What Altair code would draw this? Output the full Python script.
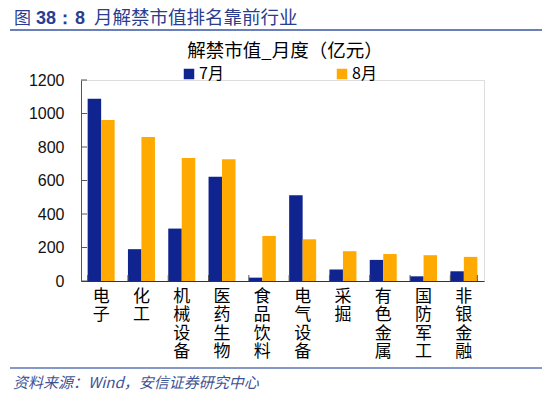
import altair as alt
import pandas as pd

cats = ["电子", "化工", "机械设备", "医药生物", "食品饮料", "电气设备", "采掘", "有色金属", "国防军工", "非银金融"]
jul = [1088, 190, 313, 622, 20, 512, 68, 126, 28, 58]
aug = [961, 859, 735, 727, 269, 249, 178, 161, 154, 144]
months = ["7月", "8月"]
y_ticks = [0, 200, 400, 600, 800, 1000, 1200]

rows = []
for c, a, b in zip(cats, jul, aug):
    rows.append({"cat": c, "month": months[0], "value": a})
    rows.append({"cat": c, "month": months[1], "value": b})
df = pd.DataFrame(rows)

W, H = 403, 201
FONT_CJK = "Noto Sans CJK SC"
FONT_NUM = "Liberation Sans"

xscale = alt.Scale(domain=cats, paddingInner=0.33, paddingOuter=0.165)
yscale = alt.Scale(domain=[0, 1200], nice=False)

xaxis = alt.Axis(title=None, labelAngle=0, ticks=False, domainColor="#333333",
                 labelExpr="split(datum.label, '')", labelFont=FONT_CJK,
                 labelFontSize=17, labelLineHeight=18.5, labelColor="#000000",
                 labelPadding=7, labelBaseline="top")
yaxis = alt.Axis(title=None, values=y_ticks, ticks=False, grid=False, format="d",
                 labelOverlap=False, domainColor="#555555", labelFont=FONT_NUM,
                 labelFontSize=16, labelColor="#111111", labelPadding=17)

bars = alt.Chart(df).mark_bar().encode(
    x=alt.X("cat:N", scale=xscale, sort=cats, axis=xaxis),
    xOffset=alt.XOffset("month:N", sort=months, scale=alt.Scale(paddingInner=0, paddingOuter=0)),
    y=alt.Y("value:Q", scale=yscale, axis=yaxis),
    color=alt.Color("month:N", sort=months,
                    scale=alt.Scale(domain=months, range=["#10248F", "#FFAA00"]),
                    legend=alt.Legend(title=None, orient="none", direction="horizontal",
                                      legendX=100, legendY=-14, symbolType="square",
                                      symbolSize=110, symbolStrokeWidth=0,
                                      labelFont=FONT_CJK, labelFontSize=16,
                                      labelColor="#000000", columnPadding=110,
                                      labelOffset=2)),
)

ytick_df = pd.DataFrame({"value": y_ticks})
yticks = alt.Chart(ytick_df).mark_rule(color="#555555").encode(
    y=alt.Y("value:Q", scale=yscale, axis=yaxis),
    x=alt.value(0), x2=alt.value(6),
)

xtick_df = pd.DataFrame({"cat": cats})
xticks = alt.Chart(xtick_df).mark_rule(color="#555555").encode(
    x=alt.X("cat:N", scale=xscale, sort=cats, bandPosition=0, axis=xaxis),
    y=alt.value(H - 6), y2=alt.value(H),
)
xtick_end = alt.Chart(pd.DataFrame({"cat": [cats[-1]]})).mark_rule(color="#555555").encode(
    x=alt.X("cat:N", scale=xscale, sort=cats, bandPosition=1, axis=xaxis),
    y=alt.value(H - 6), y2=alt.value(H),
)

def txt(t, x, y, size, color, weight="normal", style="normal", font=FONT_CJK, align="left"):
    return alt.Chart(pd.DataFrame({"t": [t]})).mark_text(
        align=align, baseline="alphabetic", font=font, fontSize=size, color=color,
        fontWeight=weight, fontStyle=style
    ).encode(text="t:N", x=alt.value(x), y=alt.value(y))

HC = "#2A3D8F"
h1 = txt("图", -67, -56, 17, HC)
h2 = txt("38：", -45, -56, 18, HC, weight="bold", font=FONT_NUM)
h3 = txt("8", -6, -56, 18, HC, weight="bold", font=FONT_NUM)
h4 = txt("月解禁市值排名靠前行业", 13, -56, 18.5, HC)

header_line = alt.Chart(pd.DataFrame({"a": [0]})).mark_rule(color="#3A55A5", strokeWidth=1.5).encode(
    x=alt.value(-71), x2=alt.value(469), y=alt.value(-50)
)

ctitle = alt.Chart(pd.DataFrame({"t": ["解禁市值_月度（亿元）"]})).mark_text(
    align="center", baseline="middle", font=FONT_CJK, fontSize=18.5, color="#000000"
).encode(text="t:N", x=alt.value(204), y=alt.value(-29))

footer_line = alt.Chart(pd.DataFrame({"a": [0]})).mark_rule(color="#8598C8", strokeWidth=2).encode(
    x=alt.value(-71), x2=alt.value(469), y=alt.value(288)
)

footer = txt("资料来源：Wind，安信证券研究中心", -68, 308, 15, "#3F5396", style="italic")

chart = alt.layer(bars, yticks, xticks, xtick_end, h1, h2, h3, h4, header_line, ctitle,
                  footer_line, footer).properties(
    width=W, height=H,
    autosize=alt.AutoSizeParams(type="none"),
    padding={"left": 73, "top": 72, "right": 58, "bottom": 110},
).configure_view(strokeWidth=0, stroke="transparent").configure(background="white")

chart.save("out.html", embed_options={"renderer": "svg", "actions": False})
